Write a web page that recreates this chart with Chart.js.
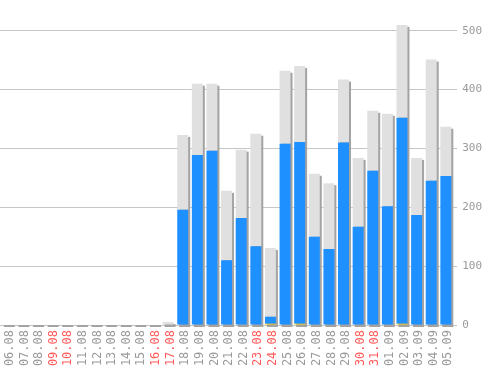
<!DOCTYPE html>
<html>
<head>
<meta charset="utf-8">
<script src="https://cdn.jsdelivr.net/npm/chart.js@4.4.0/dist/chart.umd.min.js"></script>
<style>
  body { margin: 0; background: #fff; }
  #wrap { width: 498px; height: 370px; }
</style>
</head>
<body>
<div id="wrap"><canvas id="chart" width="498" height="370"></canvas></div>
<script>
// days shown on the x axis
const days = ['06.08', '07.08', '08.08', '09.08', '10.08', '11.08', '12.08', '13.08',
    '14.08', '15.08', '16.08', '17.08', '18.08', '19.08', '20.08', '21.08', '22.08',
    '23.08', '24.08', '25.08', '26.08', '27.08', '28.08', '29.08', '30.08', '31.08',
    '01.09', '02.09', '03.09', '04.09', '05.09'];
// weekend days get a red label
const weekend = ['09.08', '10.08', '16.08', '17.08', '23.08', '24.08', '30.08', '31.08'];

// stacked series, bottom to top
const yellowVals = [0, 0, 0, 0, 0, 0, 0, 0, 0, 0, 0, 0, 0, 0, 0, 0, 0,
    0, 2, 0, 2, 0, 0, 0, 0, 0, 0, 2, 0, 0, 0];
const blueVals = [0, 0, 0, 0, 0, 0, 0, 0, 0, 0, 0, 0, 196, 289, 296, 110, 182,
    134, 12, 308, 309, 150, 129, 310, 167, 262, 202, 350, 187, 245, 253];
const greyVals = [0, 0, 0, 0, 0, 0, 0, 0, 0, 0, 0, 5, 127, 121, 114, 118, 116,
    191, 117, 124, 129, 107, 112, 107, 117, 102, 157, 158, 97, 206, 84];

const yTicks = [0, 100, 200, 300, 400, 500];

// draws a flat grey shadow behind each whole stack
const shadowPlugin = {
    id: 'barShadow',
    beforeDatasetsDraw(chart) {
        const ctx = chart.ctx;
        const yScale = chart.scales.y;
        const base = yScale.getPixelForValue(0);
        const metas = chart.data.datasets.map((d, i) => chart.getDatasetMeta(i));
        ctx.save();
        ctx.fillStyle = '#a3a3a3';
        for (let i = 0; i < days.length; i++) {
            let top = base;
            metas.forEach(m => { top = Math.min(top, m.data[i].y); });
            const bar = metas[0].data[i];
            const w = bar.width;
            let y1 = top + 2;
            let y2 = base + 2;
            if (y2 - y1 < 2) { y1 = base; }
            ctx.fillRect(bar.x - w / 2 + 2, y1, w, y2 - y1);
        }
        ctx.restore();
    }
};

const monoFamily = '"DejaVu Sans Mono", monospace';

new Chart(document.getElementById('chart'), {
    type: 'bar',
    data: {
        labels: days,
        datasets: [
            { label: 'yellow', data: yellowVals, backgroundColor: '#ffd000' },
            { label: 'blue', data: blueVals, backgroundColor: '#1e90ff' },
            { label: 'grey', data: greyVals, backgroundColor: '#e0e0e0' }
        ]
    },
    options: {
        responsive: false,
        animation: false,
        layout: { padding: { top: 19, right: 11, bottom: 0, left: 0 } },
        datasets: {
            bar: { categoryPercentage: 1, barPercentage: 0.75, borderWidth: 0 }
        },
        plugins: {
            legend: { display: false },
            tooltip: { enabled: false }
        },
        scales: {
            x: {
                stacked: true,
                grid: { display: false, drawTicks: false },
                border: { display: false },
                afterFit: (scale) => { scale.height = 45; },
                ticks: {
                    autoSkip: false,
                    minRotation: 90,
                    maxRotation: 90,
                    padding: 5,
                    labelOffset: 2.5,
                    font: { family: monoFamily, size: 12 },
                    color: (ctx) => weekend.includes(days[ctx.index]) ? '#ff5a5a' : '#9a9a9a'
                }
            },
            y: {
                stacked: true,
                position: 'right',
                min: 0,
                max: 520,
                afterBuildTicks: (axis) => {
                    axis.ticks = yTicks.map(v => ({ value: v }));
                },
                grid: { color: '#c6c6c6', tickLength: 4 },
                border: { display: false },
                ticks: {
                    padding: 5,
                    font: { family: monoFamily, size: 11 },
                    color: '#9a9a9a'
                }
            }
        }
    },
    plugins: [shadowPlugin]
});
</script>
</body>
</html>
